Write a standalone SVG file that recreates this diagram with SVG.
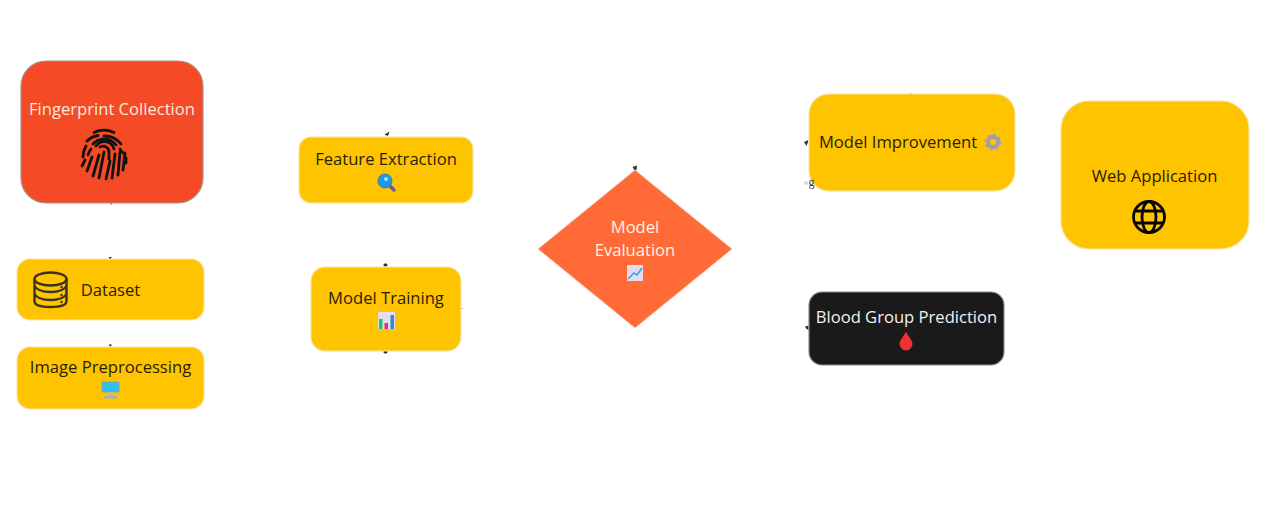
<svg xmlns="http://www.w3.org/2000/svg" width="1280" height="520" viewBox="0 0 1280 520">
<style>
text{font-family:"Open Sans","Noto Sans",sans-serif;font-size:16.600px;text-anchor:middle}
.y{fill:#ffc400;stroke:#f7e3a6;stroke-width:1.2}
.d{fill:#2b1c05}
.w{fill:#fff3e6}
.mark{fill:#333}
.ln{fill:none;stroke:#111;stroke-width:2.800;stroke-linecap:round}
.db{fill:none;stroke:#3a3320;stroke-width:2.4}
</style>
<rect width="1280" height="520" fill="#fff"/>
<g id="connectors">
<path class="mark" d="M110 203.500l2 0-1 1.500z"/>
<path class="mark" d="M108.500 257l3.500 0-1.700 2.500z"/>
<path class="mark" d="M108.500 344.500l3.500 0-1.700 2.500z"/>
<path class="mark" d="M389.500 131.500l-1.500 4.500-3.500-1.500z"/>
<path class="mark" d="M383 265l2.500-2 2.500 2-2.500 2z"/>
<path class="mark" d="M383 352l2.500-2 2.500 2-2.500 2z"/>
<path class="mark" d="M460.500 308l1.800 0 0 1z"/>
<path class="mark" d="M632.500 167l4.500-1.500-.5 4.500-1.500 1z"/>
<path class="mark" d="M804 142l4.500-2-1 3.500-1 2.500z"/>
<path class="mark" d="M805 326.500l3.500-1 0 4.500-2-1z"/>
<path class="mark" d="M910 93l1.500 0-.7 1z"/>
</g>
<g id="fingerprint-collection">
<rect x="21" y="61" width="182" height="142" rx="25" fill="#f44a25" stroke="#a7928d" stroke-width="1.200"/>
<text x="112" y="115" fill="#ffe9dd">Fingerprint Collection</text>
<g class="ln" transform="translate(104 155)">
<path d="M-10-22.500A24 24 0 0 1 10-22.500"/>
<path d="M-17-14A22 22 0 0 1-6-19.500M0-19A21 21 0 0 1 17-11"/>
<path d="M-11-11A15 15 0 0 1 12-10M16-6L19-2"/>
<path d="M-21 2A22 22 0 0 1-18-9M-8-9A10 10 0 0 1 10-6"/>
<path d="M-16 0A16 16 0 0 1-13-6M-4-8A6 6 0 0 1 5-2V4"/>
<path d="M-22 11L-19 5M-17 16L-12 2M-11 21L-5 0M-5 23L0-3M2 24L6 6M8 23L11-1M14 20L16-3M19 15L21-2M22 8L22 3"/>
</g>
</g>
<g id="dataset">
<rect class="y" x="17" y="259" width="187" height="61" rx="13"/>
<g class="db">
<ellipse cx="50.500" cy="279" rx="16" ry="6.500"/>
<path d="M34.500 279V301Q34.500 307 50.500 307T66.500 301V279M34.500 286Q38 292 50.500 292T66.500 286M34.500 294Q38 300 50.500 300T66.500 294"/>
</g>
<circle cx="61.500" cy="287" r="1.200" fill="#3a3320"/><circle cx="61.500" cy="295" r="1.200" fill="#3a3320"/><circle cx="61.500" cy="302" r="1.200" fill="#3a3320"/>
<text class="d" x="110.500" y="296">Dataset</text>
</g>
<g id="image-preprocessing">
<rect class="y" x="17" y="347" width="187" height="62" rx="13"/>
<text class="d" x="110.500" y="373">Image Preprocessing</text>
<rect x="102" y="382" width="17" height="10" fill="#2fc1f5" stroke="#9a9a80" stroke-width=".8"/>
<rect x="104" y="396" width="13" height="2.500" fill="#aab0b5"/>
<rect x="108" y="392" width="5" height="4" fill="#c9b98a"/>
</g>
<g id="feature-extraction">
<rect class="y" x="299" y="137" width="174" height="66" rx="12"/>
<text class="d" x="386" y="164.500">Feature Extraction</text>
<path d="M389 185l5 5" stroke="#6a5a9a" stroke-width="3.500" stroke-linecap="round"/>
<circle cx="385" cy="181" r="7" fill="#1e9be0" stroke="#3c7db0"/>
<circle cx="386" cy="179" r="2" fill="#9be0fa"/>
</g>
<g id="model-training">
<rect class="y" x="311" y="267" width="150" height="84" rx="14"/>
<text class="d" x="386" y="304">Model Training</text>
<rect x="378" y="312" width="17" height="17" fill="#e6dcec"/>
<rect x="379" y="319" width="3.500" height="10" fill="#1fc46f"/>
<rect x="384.500" y="323" width="3.500" height="6" fill="#ef2a78"/>
<rect x="390.500" y="315" width="3.500" height="14" fill="#2a8fd8"/>
</g>
<g id="model-evaluation">
<path d="M635 170L732 249 635 328 538 249Z" fill="#ff6a36" stroke="#f6c9b4"/>
<text class="w" x="635" y="233">Model</text>
<text class="w" x="635" y="256">Evaluation</text>
<rect x="627" y="265" width="16" height="16" fill="#e3dcee"/>
<path d="M628 279L634 273 637 275 642 268" fill="none" stroke="#3a9fdc" stroke-width="1.500"/>
</g>
<g id="model-improvement">
<rect class="y" x="809" y="94" width="206" height="97" rx="20"/>
<text class="d" x="898" y="148">Model Improvement</text>
<circle cx="993" cy="142" r="5" fill="none" stroke="#a39bb0" stroke-width="4"/>
<circle cx="993" cy="142" r="7" fill="none" stroke="#a39bb0" stroke-width="2.500" stroke-dasharray="2.700 2.800"/>
<circle cx="806" cy="183" r="2" fill="#d8d8d8"/>
<text x="811.500" y="186" style="font-family:'Liberation Serif',serif;font-size:12px" fill="#3a3a3a">g</text>
</g>
<g id="blood-group-prediction">
<rect x="809" y="292" width="195" height="73" rx="13" fill="#1a1a1a" stroke="#8a8a8a" stroke-width="1.200"/>
<text x="906.500" y="323" fill="#f2f2f2">Blood Group Prediction</text>
<path d="M906 332C902 338 899.500 341 899.500 344A6.500 6.500 0 0 0 912.500 344C912.500 341 910 338 906 332Z" fill="#f03030"/>
</g>
<g id="web-application">
<rect class="y" x="1061" y="101" width="188" height="148" rx="28"/>
<text class="d" x="1154.500" y="182">Web Application</text>
<g fill="none" stroke="#050505" stroke-width="2.800">
<circle cx="1149" cy="217" r="15.500"/>
<ellipse cx="1149" cy="217" rx="7" ry="15.500"/>
<path d="M1135 211H1163M1135 223H1163"/>
</g>
</g>
</svg>
